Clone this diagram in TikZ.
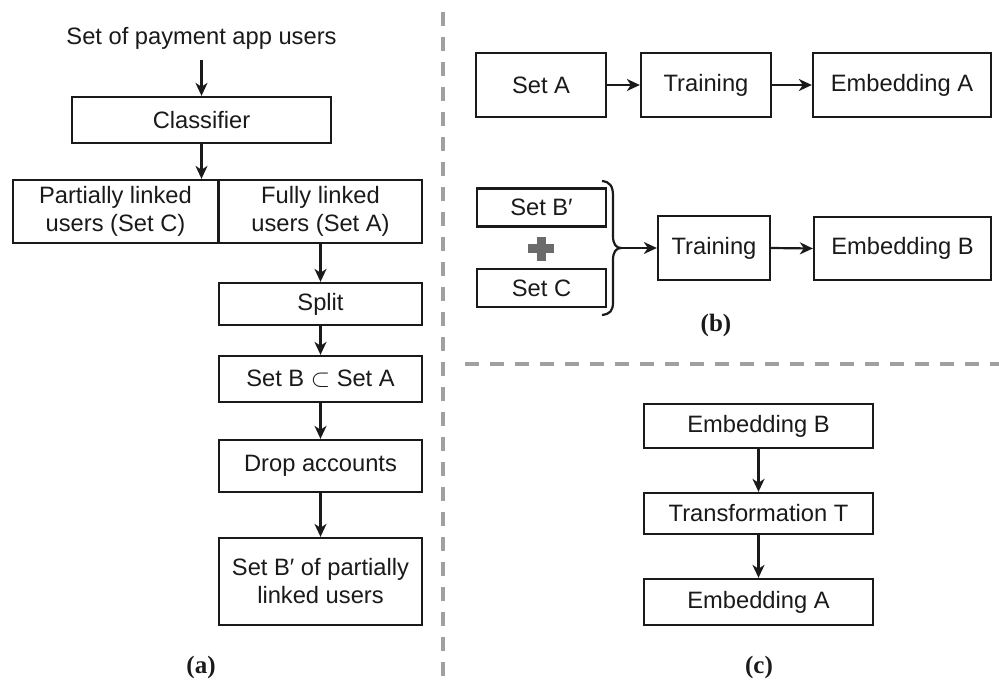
\documentclass[tikz,border=0pt]{standalone}
\usepackage{fontspec}
\setmainfont{Liberation Sans}
\newfontfamily\labelfont{Liberation Serif}
\usetikzlibrary{arrows.meta}
\definecolor{sepgray}{HTML}{A0A0A0}
\definecolor{plusgray}{HTML}{6B6B6B}
\definecolor{ink}{HTML}{1A1A1A}
\begin{document}
\begin{tikzpicture}[x=1pt,y=-1pt,
  box/.style={draw=ink, line width=2.3pt, inner sep=0pt, align=center, text=ink,
    font=\fontsize{23.7}{28}\selectfont},
  plain/.style={inner sep=0pt, text=ink, font=\fontsize{23.7}{28}\selectfont},
  sublabel/.style={inner sep=0pt, text=ink, font=\labelfont\bfseries\fontsize{25}{28}\selectfont},
  conn/.style={draw=ink, line width=2.2pt, -{Stealth[length=13pt,width=12pt,inset=4pt]}},
  sepline/.style={draw=sepgray, line width=3.5pt, dash pattern=on 14pt off 11pt},
  bracel/.style={draw=ink, line width=2.2pt}]
\fill[white] (0,0) rectangle (999,682);
\useasboundingbox (0,0) rectangle (999,682);

% separators
\draw[sepline] (443,12) -- (443,682);
\draw[sepline] (465,364) -- (999,364);

% ---------- panel (a)
\node[plain] (title) at (201.5,38) {Set of payment app users};
\node[box, minimum width=259pt, minimum height=46pt] (cls) at (201.5,120) {Classifier};
\node[box, minimum width=205pt, minimum height=63pt] (part) at (115.5,211.5) {Partially linked\\users (Set C)};
\node[box, minimum width=203pt, minimum height=63pt] (full) at (320.5,211.5) {Fully linked\\users (Set A)};
\node[box, minimum width=203pt, minimum height=42pt] (split) at (320.5,304) {Split};
\node[box, minimum width=203pt, minimum height=46pt] (setb) at (320.5,379) {Set B $\subset$ Set A};
\node[box, minimum width=203pt, minimum height=52pt] (drop) at (320.5,466) {Drop accounts};
\node[box, minimum width=203pt, minimum height=87pt] (bprime) at (320.5,581.5) {Set B′ of partially\\linked users};
\node[sublabel] (la) at (201,667) {(a)};

\coordinate (t0) at (201.5,60);
\draw[conn] (t0) -- (cls.north);
\draw[conn] (cls.south) -- (cls.south |- part.north);
\draw[conn] (full.south) -- (split.north);
\draw[conn] (split.south) -- (setb.north);
\draw[conn] (setb.south) -- (drop.north);
\draw[conn] (drop.south) -- (bprime.north);

% ---------- panel (b)
\node[box, minimum width=130pt, minimum height=64pt] (seta) at (541,85) {Set A};
\node[box, minimum width=130pt, minimum height=64pt] (tr1) at (706,85) {Training};
\node[box, minimum width=178pt, minimum height=64pt] (emba1) at (902,85) {Embedding A};
\draw[conn] (seta.east) -- (tr1.west);
\draw[conn] (tr1.east) -- (emba1.west);

\node[box, minimum width=129pt, minimum height=38pt] (sbp) at (541.5,207.5) {Set B′};
\node[box, minimum width=129pt, minimum height=38pt] (sc) at (541.5,288) {Set C};
\fill[plusgray] (528,243.5) rectangle (554,252.5);
\fill[plusgray] (537,237) rectangle (546,261);
\draw[bracel] (602,181) .. controls (610,182) and (613,186) .. (613,196) -- (613,236)
  .. controls (613,244) and (616,248) .. (621,248)
  .. controls (616,248) and (613,252) .. (613,260) -- (613,302)
  .. controls (613,311) and (610,314) .. (602,315);
\coordinate (tip) at (621,248);
\node[box, minimum width=112pt, minimum height=64pt] (tr2) at (714,248) {Training};
\node[box, minimum width=177pt, minimum height=63pt] (embb1) at (902.5,248.5) {Embedding B};
\draw[conn] (tip) -- (tr2.west);
\draw[conn] (tr2.east) -- (embb1.west);
\node[sublabel] (lb) at (716,325) {(b)};

% ---------- panel (c)
\node[box, minimum width=229pt, minimum height=44pt] (embb2) at (758.5,426) {Embedding B};
\node[box, minimum width=229pt, minimum height=41pt] (trans) at (758.5,513.5) {Transformation T};
\node[box, minimum width=229pt, minimum height=46pt] (emba2) at (758.5,602) {Embedding A};
\draw[conn] (embb2.south) -- (trans.north);
\draw[conn] (trans.south) -- (emba2.north);
\node[sublabel] (lc) at (759,667) {(c)};
\end{tikzpicture}
\end{document}
